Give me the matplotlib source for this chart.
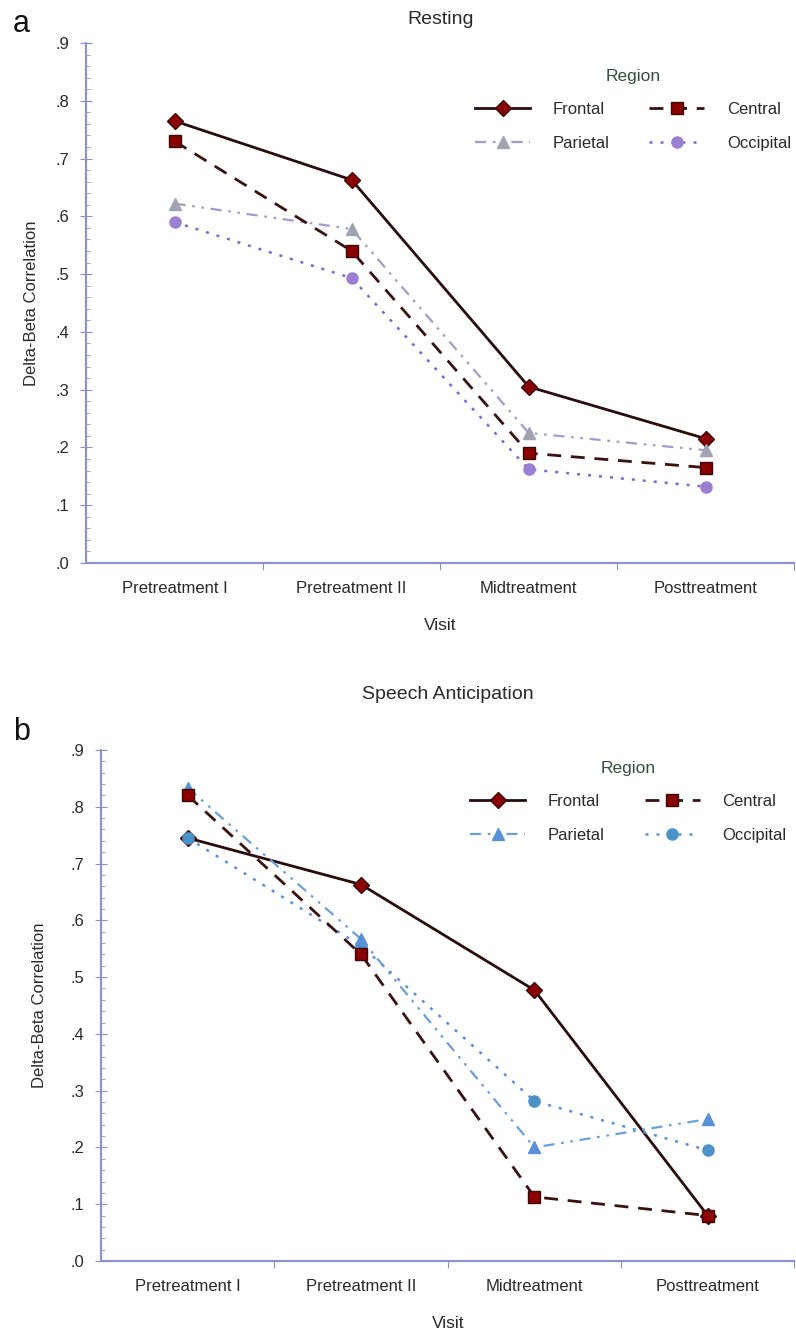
import matplotlib
matplotlib.use('Agg')
import matplotlib.pyplot as plt
from matplotlib.ticker import MultipleLocator, FuncFormatter

plt.rcParams['font.family'] = ['Liberation Sans', 'DejaVu Sans']

visits = ['Pretreatment I', 'Pretreatment II', 'Midtreatment', 'Posttreatment']
regions = ['Frontal', 'Central', 'Parietal', 'Occipital']

# panel a: resting
resting = {
    'Frontal':   [0.765, 0.663, 0.305, 0.215],
    'Central':   [0.730, 0.540, 0.190, 0.165],
    'Parietal':  [0.622, 0.578, 0.225, 0.195],
    'Occipital': [0.590, 0.493, 0.162, 0.132],
}

# panel b: speech anticipation
speech = {
    'Frontal':   [0.745, 0.663, 0.477, 0.080],
    'Central':   [0.820, 0.540, 0.113, 0.080],
    'Parietal':  [0.833, 0.567, 0.200, 0.250],
    'Occipital': [0.745, 0.555, 0.282, 0.195],
}

axis_col = '#8a90d8'
text_col = '#2a2a2a'

styles_a = {
    'Frontal':   dict(color='#2b0c0c', ls='-', lw=2.0, marker='D', ms=8,
                      mfc='#8b0000', mec='#3a0a0a'),
    'Central':   dict(color='#3b1010', ls=(0, (5, 3.5)), lw=2.0, marker='s', ms=9,
                      mfc='#8b0000', mec='#3a0a0a'),
    'Parietal':  dict(color='#a59ad0', ls=(0, (5, 3, 1.2, 3, 1.2, 3)), lw=1.6, marker='^', ms=9,
                      mfc='#a0a4b0', mec='#a0a4b0'),
    'Occipital': dict(color='#7a6ad8', ls=(0, (1.2, 3.2)), lw=1.8, marker='o', ms=8,
                      mfc='#9a80d0', mec='#9a80d0'),
}

styles_b = {
    'Frontal':   styles_a['Frontal'],
    'Central':   styles_a['Central'],
    'Parietal':  dict(color='#6aa0d8', ls=(0, (5, 3, 1.2, 3, 1.2, 3)), lw=1.6, marker='^', ms=9,
                      mfc='#5a90d8', mec='#5a90d8'),
    'Occipital': dict(color='#5a8ee0', ls=(0, (1.2, 3.2)), lw=1.8, marker='o', ms=8,
                      mfc='#4a92c8', mec='#4a92c8'),
}


def draw(ax, data, styles, title, title_pad, legend_anchor, label_x):
    x = list(range(len(visits)))
    # drawing order decides which marker ends up on top where they overlap
    for name in ['Frontal', 'Occipital', 'Parietal', 'Central']:
        ax.plot(x, data[name], label=name, **styles[name])

    ax.set_xlim(-0.5, 3.5)
    ax.set_ylim(0, 0.9)

    ax.yaxis.set_major_locator(MultipleLocator(0.1))
    ax.yaxis.set_minor_locator(MultipleLocator(0.02))
    ax.yaxis.set_major_formatter(FuncFormatter(lambda v, p: ('%.1f' % v)[1:]))
    ax.tick_params(axis='y', which='major', direction='inout', length=8,
                   color=axis_col, labelsize=12, labelcolor=text_col, pad=8)
    ax.tick_params(axis='y', which='minor', direction='in', length=3, color=axis_col)

    ax.set_xticks([0.5, 1.5, 2.5, 3.5])
    ax.set_xticklabels([])
    ax.set_xticks(x, minor=True)
    ax.set_xticklabels(visits, minor=True)
    ax.tick_params(axis='x', which='major', direction='out', length=5, color=axis_col)
    ax.tick_params(axis='x', which='minor', length=0, labelsize=12,
                   labelcolor=text_col, pad=13)

    for side in ['top', 'right']:
        ax.spines[side].set_visible(False)
    for side in ['left', 'bottom']:
        ax.spines[side].set_color(axis_col)
        ax.spines[side].set_linewidth(1.5)

    ax.set_xlabel('Visit', fontsize=12.5, color=text_col, labelpad=16)
    ax.set_ylabel('Delta-Beta Correlation', fontsize=12, color=text_col)
    ax.yaxis.set_label_coords(label_x, 0.5)
    ax.set_title(title, fontsize=14, color=text_col, pad=title_pad)

    handles, labels = ax.get_legend_handles_labels()
    order = [labels.index(n) for n in ['Frontal', 'Parietal', 'Central', 'Occipital']]
    leg = ax.legend([handles[i] for i in order], [labels[i] for i in order],
                    ncol=2, title='Region', frameon=False, fontsize=12,
                    title_fontsize=12.5, handlelength=3.3, handletextpad=1.35,
                    columnspacing=2.4, labelspacing=1.1, loc='upper left',
                    bbox_to_anchor=legend_anchor)
    for t in leg.get_texts():
        t.set_color(text_col)
    leg.get_title().set_color('#34503c')


fig = plt.figure(figsize=(7.96, 13.34), dpi=100)
ax_a = fig.add_axes([0.108, 0.578, 0.890, 0.3898])
ax_b = fig.add_axes([0.127, 0.0547, 0.871, 0.3831])

draw(ax_a, resting, styles_a, 'Resting', 14, (0.528, 0.979), -0.066)
draw(ax_b, speech, styles_b, 'Speech Anticipation', 37, (0.511, 1.008), -0.078)

fig.text(0.016, 0.976, 'a', fontsize=22, color='#111111', va='baseline')
fig.text(0.016, 0.4455, 'b', fontsize=22, color='#111111', va='baseline')

fig.savefig('out.png', dpi=100)
